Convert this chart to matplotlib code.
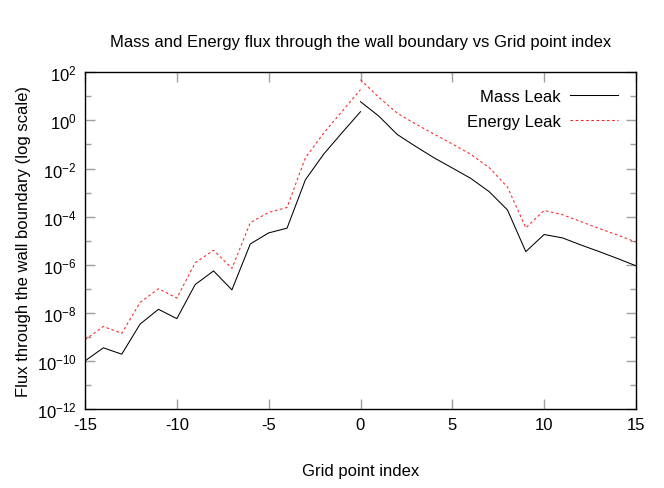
import matplotlib
matplotlib.use("Agg")
import matplotlib.pyplot as plt
from matplotlib.ticker import FixedLocator, FuncFormatter
import numpy as np

plt.rcParams['font.family'] = ['Liberation Sans', 'DejaVu Sans']

x_left = [-15, -14, -13, -12, -11, -10, -9, -8, -7, -6, -5, -4, -3, -2, -1, 0]
x_right = [0, 1, 2, 3, 4, 5, 6, 7, 8, 9, 10, 11, 12, 13, 14, 15]

mass_left = [1.0e-10, 3.5e-10, 1.9e-10, 3.4e-9, 1.4e-8, 5.7e-9, 1.5e-7, 5.5e-7,
             9e-8, 7.3e-6, 2.1e-5, 3.3e-5, 3.4e-3, 4.0e-2, 3.1e-1, 2.3]
mass_right = [6.0, 1.5, 2.6e-1, 8.3e-2, 2.8e-2, 1.05e-2, 3.9e-3, 1.1e-3,
              1.9e-4, 3.5e-6, 1.8e-5, 1.3e-5, 6.6e-6, 3.5e-6, 1.8e-6, 9e-7]

energy_left = [7.6e-10, 2.7e-9, 1.4e-9, 2.7e-8, 1.0e-7, 4.1e-8, 1.2e-6, 4.0e-6,
               7e-7, 5.6e-5, 1.5e-4, 2.4e-4, 2.8e-2, 3.0e-1, 2.4, 19.0]
energy_right = [49.0, 9.1, 2.0, 7.1e-1, 2.7e-1, 1.05e-1, 3.9e-2, 1.1e-2,
                1.7e-3, 3.4e-5, 1.8e-4, 1.2e-4, 6.2e-5, 3.2e-5, 1.7e-5, 8.8e-6]

title = "Mass and Energy flux through the wall boundary vs Grid point index"
xlabel = "Grid point index"
ylabel = "Flux through the wall boundary (log scale)"

fig = plt.figure(figsize=(6.64, 4.89), dpi=100)
ax = fig.add_axes([85/664, 1-410/489, (636-85)/664, (410-73.3)/489])

mc = 'black'
ec = '#ff2020'
ax.plot(x_left, mass_left, color=mc, lw=0.75, label='Mass Leak')
ax.plot(x_right, mass_right, color=mc, lw=0.75)
ax.plot(x_left, energy_left, color=ec, lw=0.75, ls=(0, (2.5, 2.5)), label='Energy Leak')
ax.plot(x_right, energy_right, color=ec, lw=0.75, ls=(0, (2.5, 2.5)))

ax.set_yscale('log')
ax.set_xlim(-15, 15)
ax.set_ylim(1e-12, 1e2)

ax.xaxis.set_major_locator(FixedLocator([-15, -10, -5, 0, 5, 10, 15]))
ax.yaxis.set_major_locator(FixedLocator([10.0**e for e in range(-12, 3, 2)]))
ax.yaxis.set_minor_locator(FixedLocator([10.0**e for e in range(-11, 2, 2)]))
ax.yaxis.set_minor_formatter(FuncFormatter(lambda v, p: ''))
ax.yaxis.set_major_formatter(FuncFormatter(
    lambda v, p: r'$\mathregular{10^{%d}}$' % int(round(np.log10(v)))))
ax.xaxis.set_major_formatter(FuncFormatter(lambda v, p: '%d' % v))

ax.tick_params(which='both', direction='in', top=True, right=True,
               color='#a0a0a0', labelsize=12, width=1.0)
ax.tick_params(which='major', length=7, pad=6)
ax.tick_params(which='minor', length=4)
for s in ax.spines.values():
    s.set_linewidth(1.0)
    s.set_color('black')

ax.set_title(title, fontsize=12, pad=19)
ax.set_xlabel(xlabel, fontsize=12, labelpad=22)
ax.set_ylabel(ylabel, fontsize=12, labelpad=4)

leg = ax.legend(loc='upper right', frameon=False, markerfirst=False,
                fontsize=12, handlelength=2.9, handletextpad=0.55,
                labelspacing=0.62, bbox_to_anchor=(0.995, 0.995))
for t in leg.get_texts():
    t.set_ha('right')

fig.savefig('out.png', dpi=100)
